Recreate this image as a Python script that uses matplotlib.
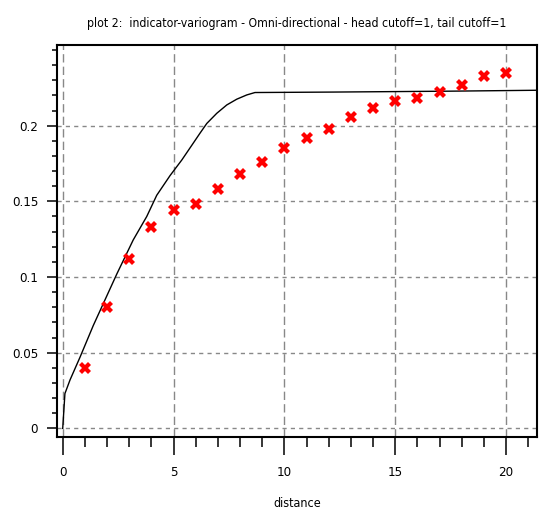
#!/usr/bin/env python3
"""Indicator variogram (omni-directional): experimental points and fitted model."""

import matplotlib
matplotlib.use("Agg")
import matplotlib.pyplot as plt
from matplotlib.ticker import MultipleLocator

# experimental variogram points (lag distance, gamma)
lag = [1, 2, 3, 4, 5, 6, 7, 8, 9, 10,
       11, 12, 13, 14, 15, 16, 17, 18, 19, 20]
gamma = [0.040, 0.080, 0.112, 0.133, 0.144, 0.148, 0.158, 0.168, 0.176, 0.185,
         0.192, 0.198, 0.206, 0.212, 0.216, 0.218, 0.222, 0.227, 0.233, 0.235]

# model curve
model_h = [0.0, 0.10, 0.33, 0.78, 1.38, 1.91, 2.44, 3.18, 3.79, 4.24, 4.84,
           5.37, 5.82, 6.19, 6.50, 6.95, 7.40, 7.85, 8.30, 8.67, 12.2, 17.5, 21.4]
model_g = [0.0, 0.023, 0.032, 0.047, 0.068, 0.085, 0.102, 0.1245, 0.140, 0.154, 0.167,
           0.1773, 0.187, 0.195, 0.2015, 0.2082, 0.2137, 0.2175, 0.2203, 0.2219,
           0.2222, 0.2228, 0.2234]

title = "plot 2:  indicator-variogram - Omni-directional - head cutoff=1, tail cutoff=1"
xlabel = "distance"

plt.rcParams["font.family"] = ["DejaVu Sans"]
plt.rcParams["font.stretch"] = "condensed"

fig = plt.figure(figsize=(5.4, 5.17), dpi=100)
ax = fig.add_axes([56.5 / 540, 1 - 437.3 / 517, (537 - 56.5) / 540, (437.3 - 45) / 517])

ax.plot(model_h, model_g, color="black", lw=1.0, zorder=3)
ax.plot(lag, gamma, linestyle="none", marker="X", markersize=8.5,
        color="#ff0000", markeredgewidth=0, zorder=4)

ax.set_xlim(-0.28, 21.39)
ax.set_ylim(-0.0059, 0.2533)

ax.xaxis.set_major_locator(MultipleLocator(5))
ax.xaxis.set_minor_locator(MultipleLocator(1))
ax.yaxis.set_minor_locator(MultipleLocator(0.01))
ax.set_yticks([0, 0.05, 0.1, 0.15, 0.2])
ax.set_yticklabels(["0", "0.05", "0.1", "0.15", "0.2"])

ax.tick_params(axis="x", which="major", direction="out", length=12.7, width=1.1,
               pad=8, labelsize=9.5)
ax.tick_params(axis="x", which="minor", direction="out", length=7.2, width=1.1)
ax.tick_params(axis="y", which="major", direction="out", length=7.2, width=1.1,
               pad=6, labelsize=9.5)
ax.tick_params(axis="y", which="minor", direction="out", length=3.6, width=1.1)

ax.xaxis.grid(True, which="major", color="#888888", lw=1.0, linestyle=(0, (6, 3)))
ax.yaxis.grid(True, which="major", color="#888888", lw=1.0, linestyle=(0, (3, 3)))
ax.set_axisbelow(True)

for s in ax.spines.values():
    s.set_linewidth(1.5)

ax.set_xlabel(xlabel, fontsize=9, labelpad=13)
ax.set_title(title, fontsize=8.8, pad=13)

fig.savefig("out.png", dpi=100)
